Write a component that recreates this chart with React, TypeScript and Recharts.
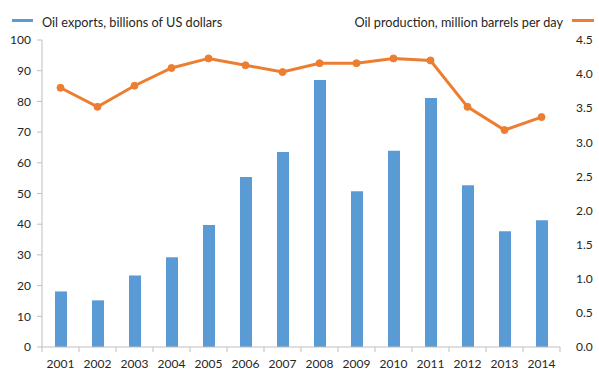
import { Bar, ComposedChart, Line, XAxis, YAxis } from 'recharts'

const years = ['2001', '2002', '2003', '2004', '2005', '2006', '2007', '2008', '2009', '2010', '2011', '2012', '2013', '2014']
const exportsBn = [18.1, 15.2, 23.3, 29.2, 39.7, 55.4, 63.5, 87.0, 50.7, 63.9, 81.1, 52.7, 37.7, 41.3]
const productionMbd = [3.8, 3.52, 3.83, 4.09, 4.23, 4.13, 4.03, 4.16, 4.16, 4.23, 4.2, 3.52, 3.18, 3.37]
const leftTicks = [0, 10, 20, 30, 40, 50, 60, 70, 80, 90, 100]
const rightTicks = [0, 0.5, 1, 1.5, 2, 2.5, 3, 3.5, 4, 4.5]

const data = years.map((year, i) => ({ year, exports: exportsBn[i], production: productionMbd[i] }))

const FONT = 'Lato, "Open Sans", sans-serif'
const BLUE = '#5b9bd5'
const ORANGE = '#ed7d31'
const AXIS = '#bfbfbf'
const TEXT = '#262626'

const WIDTH = 599
const HEIGHT = 382
const PLOT_LEFT = 42
const PLOT_RIGHT = 560
const BAND = (PLOT_RIGHT - PLOT_LEFT) / years.length

function YearTick(props: any) {
  const { x, y, payload, index } = props
  const left = x - BAND / 2
  return (
    <g>
      <line x1={left} y1={y} x2={left} y2={y + 5} stroke={AXIS} />
      {index === years.length - 1 && <line x1={left + BAND} y1={y} x2={left + BAND} y2={y + 5} stroke={AXIS} />}
      <text x={x} y={y + 21} textAnchor="middle" fontSize={12} fill={TEXT} fontFamily={FONT}>
        {payload.value}
      </text>
    </g>
  )
}

export default function App() {
  return (
    <div style={{ position: 'absolute', left: 0, top: 0, width: WIDTH, height: HEIGHT, background: '#fff', fontFamily: FONT }}>
      <div style={{ position: 'absolute', left: 12, top: 14, display: 'flex', alignItems: 'center', gap: 9, fontSize: 12.7, color: TEXT, whiteSpace: 'nowrap' }}>
        <span style={{ width: 21, height: 3, background: BLUE, display: 'inline-block', marginTop: -3 }} />
        <span>Oil exports, billions of US dollars</span>
      </div>
      <div style={{ position: 'absolute', right: 5, top: 14, display: 'flex', alignItems: 'center', gap: 9, fontSize: 12.7, color: TEXT, whiteSpace: 'nowrap' }}>
        <span>Oil production, million barrels per day</span>
        <span style={{ width: 22, height: 3, background: ORANGE, display: 'inline-block', marginTop: -3 }} />
      </div>

      <ComposedChart width={WIDTH} height={HEIGHT} data={data} margin={{ top: 40, right: 0, bottom: 0, left: 0 }}>
        <XAxis
          dataKey="year"
          height={35}
          axisLine={{ stroke: AXIS }}
          tickLine={false}
          tickSize={0}
          tickMargin={0}
          tick={<YearTick />}
          interval={0}
        />
        <YAxis
          yAxisId="left"
          width={PLOT_LEFT}
          domain={[0, 100]}
          ticks={leftTicks}
          interval={0}
          axisLine={{ stroke: AXIS }}
          tickLine={{ stroke: AXIS }}
          tickSize={5}
          tickMargin={6}
          tick={{ fontSize: 12, fill: TEXT, fontFamily: FONT }}
        />
        <YAxis
          yAxisId="right"
          orientation="right"
          width={WIDTH - PLOT_RIGHT}
          domain={[0, 4.5]}
          ticks={rightTicks}
          interval={0}
          axisLine={false}
          tickLine={false}
          tickMargin={10}
          tickFormatter={(v: number) => v.toFixed(1)}
          tick={{ fontSize: 12, fill: TEXT, fontFamily: FONT, textAnchor: 'start' }}
        />
        <Bar yAxisId="left" dataKey="exports" fill={BLUE} barSize={12} isAnimationActive={false} />
        <Line
          yAxisId="right"
          dataKey="production"
          stroke={ORANGE}
          strokeWidth={3}
          dot={{ r: 3.5, fill: ORANGE, stroke: ORANGE, strokeWidth: 1 }}
          activeDot={false}
          isAnimationActive={false}
        />
      </ComposedChart>
    </div>
  )
}
